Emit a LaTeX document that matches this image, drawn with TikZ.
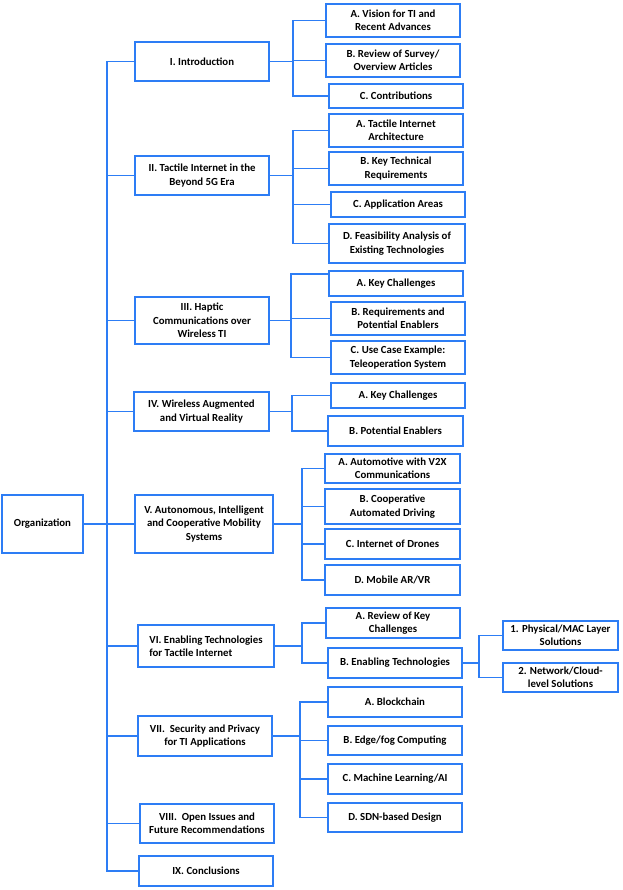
\documentclass[tikz,border=0pt]{standalone}
\usepackage{fontspec}
\setmainfont{Carlito}
\definecolor{tblue}{RGB}{45,125,245}
\begin{document}
\begin{tikzpicture}[x=1pt,y=-1pt,
  box/.style={draw=tblue, line width=1.8pt, inner sep=0pt, align=center,
    font=\fontsize{10.8}{13.3}\selectfont\bfseries},
  link/.style={draw=tblue, line width=1.8pt}]
\useasboundingbox (0,0) rectangle (622,890);
% root and sections
\node[box, minimum width=81, minimum height=58] (org) at (42.5,524) {Organization};
\node[box, minimum width=134, minimum height=39] (s1) at (202,61.5) {I. Introduction};
\node[box, minimum width=134, minimum height=39] (s2) at (202,175.5) {II. Tactile Internet in the\\Beyond 5G Era};
\node[box, minimum width=134, minimum height=47] (s3) at (202,320.5) {III. Haptic\\Communications over\\Wireless TI};
\node[box, minimum width=135, minimum height=39] (s4) at (201.5,411.5) {IV. Wireless Augmented\\and Virtual Reality};
\node[box, minimum width=138, minimum height=58] (s5) at (204,524) {V. Autonomous, Intelligent\\and Cooperative Mobility\\Systems};
\node[box, minimum width=136, minimum height=42, align=left] (s6) at (206,646) {VI. Enabling Technologies\\for Tactile Internet};
\node[box, minimum width=134, minimum height=40] (s7) at (205,736) {VII.\ \ Security and Privacy\\for TI Applications};
\node[box, minimum width=134, minimum height=39] (s8) at (207,823.5) {VIII.\ \ Open Issues and\\Future Recommendations};
\node[box, minimum width=134, minimum height=30] (s9) at (206,871) {IX. Conclusions};
% section I
\node[box, minimum width=134, minimum height=33] (c1a) at (393,20.5) {A. Vision for TI and\\Recent Advances};
\node[box, minimum width=134, minimum height=33] (c1b) at (393,60.5) {B. Review of Survey/\\Overview Articles};
\node[box, minimum width=134, minimum height=24] (c1c) at (396,96) {C. Contributions};
% section II
\node[box, minimum width=134, minimum height=33] (c2a) at (396,130.5) {A. Tactile Internet\\Architecture};
\node[box, minimum width=134, minimum height=33] (c2b) at (396,168.5) {B. Key Technical\\Requirements};
\node[box, minimum width=134, minimum height=25] (c2c) at (398,204.5) {C. Application Areas};
\node[box, minimum width=136, minimum height=39] (c2d) at (397,243.5) {D. Feasibility Analysis of\\Existing Technologies};
% section III
\node[box, minimum width=134, minimum height=25] (c3a) at (396,283.5) {A. Key Challenges};
\node[box, minimum width=134, minimum height=33] (c3b) at (398,318.5) {B. Requirements and\\Potential Enablers};
\node[box, minimum width=134, minimum height=33] (c3c) at (398,357.5) {C. Use Case Example:\\Teleoperation System};
% section IV
\node[box, minimum width=134, minimum height=25] (c4a) at (398,395.5) {A. Key Challenges};
\node[box, minimum width=135, minimum height=30] (c4b) at (395.5,431) {B. Potential Enablers};
% section V
\node[box, minimum width=135, minimum height=29] (c5a) at (392.5,468.5) {A. Automotive with V2X\\Communications};
\node[box, minimum width=135, minimum height=35] (c5b) at (392.5,506.5) {B. Cooperative\\Automated Driving};
\node[box, minimum width=135, minimum height=30] (c5c) at (392.5,544) {C. Internet of Drones};
\node[box, minimum width=135, minimum height=30] (c5d) at (392.5,580) {D. Mobile AR/VR};
% section VI
\node[box, minimum width=134, minimum height=30] (c6a) at (393,623) {A. Review of Key\\Challenges};
\node[box, minimum width=134, minimum height=30] (c6b) at (395,663) {B. Enabling Technologies};
\node[box, minimum width=115, minimum height=29] (d1) at (560.5,635.5) {1. Physical/MAC Layer\\Solutions};
\node[box, minimum width=115, minimum height=29] (d2) at (560.5,677.5) {2. Network/Cloud-\\level Solutions};
% section VII
\node[box, minimum width=134, minimum height=30] (c7a) at (395,702) {A. Blockchain};
\node[box, minimum width=134, minimum height=29] (c7b) at (395,740.5) {B. Edge/fog Computing};
\node[box, minimum width=134, minimum height=30] (c7c) at (395,779) {C. Machine Learning/AI};
\node[box, minimum width=134, minimum height=29] (c7d) at (395,817.5) {D. SDN-based Design};
% bracket coordinates
\coordinate (m) at (107,0);
\coordinate (b1) at (293,0);
\coordinate (b2) at (293,0);
\coordinate (b3) at (291,0);
\coordinate (b4) at (292,0);
\coordinate (b5) at (302,0);
\coordinate (b6) at (302,0);
\coordinate (b6b) at (479,0);
\coordinate (b7) at (300,0);
\coordinate (c3at) at ([yshift=9.5pt]c3a.west);
% connectors
\foreach \s in {s1,s2,s3,s4,s5,s6,s7,s8,s9}
  \draw[link] (org.east) -| (m |- \s.west) -- (\s.west);
\foreach \c in {c1a,c1b,c1c}
  \draw[link] (s1.east) -| (b1 |- \c.west) -- (\c.west);
\foreach \c in {c2a,c2b,c2c,c2d}
  \draw[link] (s2.east) -| (b2 |- \c.west) -- (\c.west);
\draw[link] (s3.east) -| (b3 |- c3at) -- (c3at);
\foreach \c in {c3b,c3c}
  \draw[link] (s3.east) -| (b3 |- \c.west) -- (\c.west);
\foreach \c in {c4a,c4b}
  \draw[link] (s4.east) -| (b4 |- \c.west) -- (\c.west);
\foreach \c in {c5a,c5b,c5c,c5d}
  \draw[link] (s5.east) -| (b5 |- \c.west) -- (\c.west);
\foreach \c in {c6a,c6b}
  \draw[link] (s6.east) -| (b6 |- \c.west) -- (\c.west);
\foreach \c in {d1,d2}
  \draw[link] (c6b.east) -| (b6b |- \c.west) -- (\c.west);
\foreach \c in {c7a,c7b,c7c,c7d}
  \draw[link] (s7.east) -| (b7 |- \c.west) -- (\c.west);
\end{tikzpicture}
\end{document}
